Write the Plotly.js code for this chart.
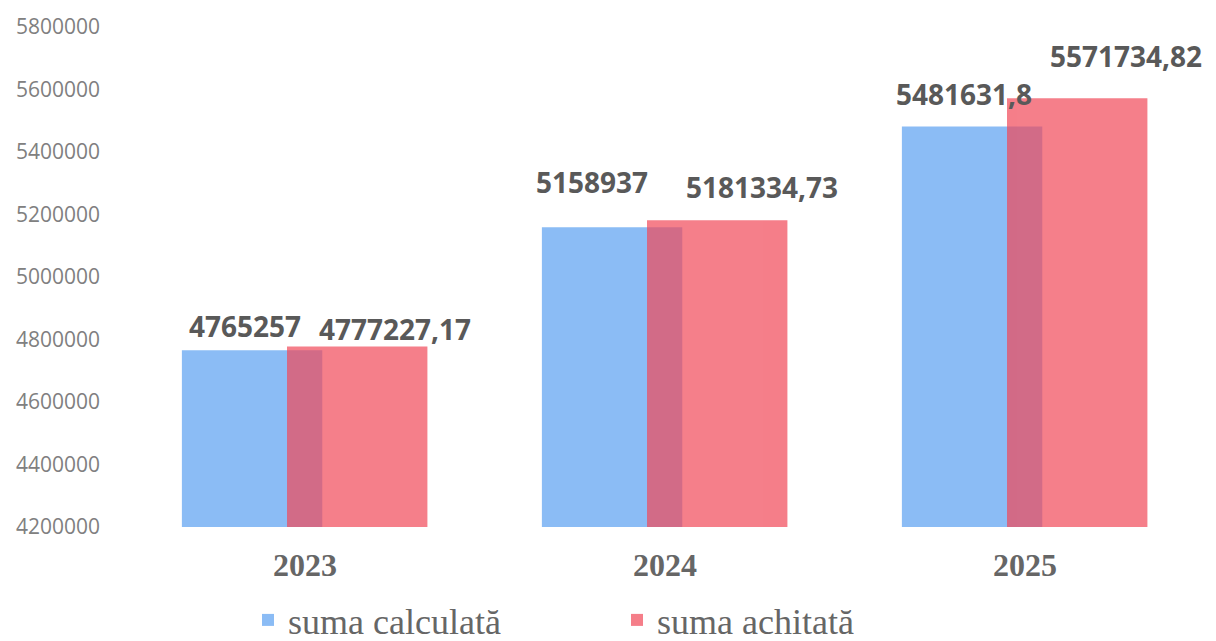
<!DOCTYPE html>
<html>
<head>
<meta charset="utf-8">
<script src="https://cdn.plot.ly/plotly-3.0.1.min.js"></script>
<style>html,body{margin:0;padding:0;background:#fff;}#chart{width:1216px;height:641px;}</style>
</head>
<body>
<div id="chart"></div>
<script>
const years = ["2023", "2024", "2025"];
const sumaCalculata = [4765257, 5158937, 5481631.8];
const sumaAchitata = [4777227.17, 5181334.73, 5571734.82];
const labelsCalculata = ["4765257", "5158937", "5481631,8"];
const labelsAchitata = ["4777227,17", "5181334,73", "5571734,82"];
const yTicks = [4200000, 4400000, 4600000, 4800000, 5000000, 5200000, 5400000, 5600000, 5800000];

const idx = years.map((_, i) => i);
const barW = 0.39;
const offBlue = -0.342;
const offRed = -0.05;

// pixel shifts of the value labels (layout only)
const shiftBlueX = [-7, -20, -8], shiftBlueY = [24, 45, 32];
const shiftRedX = [38, 45, 49], shiftRedY = [18, 33, 42];

const traces = [
  {type: "bar", name: "suma calculată", x: idx, y: sumaCalculata,
   width: barW, offset: offBlue, marker: {color: "rgb(139,188,245)"}, hoverinfo: "y"},
  {type: "bar", name: "suma achitată", x: idx, y: sumaAchitata,
   width: barW, offset: offRed, marker: {color: "rgb(241,72,88)"}, opacity: 0.7, hoverinfo: "y"}
];

const annFont = {family: "Open Sans, sans-serif", size: 28, color: "#595959", weight: "bold"};
const annotations = [];
idx.forEach(i => {
  annotations.push({x: i + offBlue + barW / 2, y: sumaCalculata[i], xref: "x", yref: "y",
    text: "<b>" + labelsCalculata[i] + "</b>", showarrow: false, font: annFont,
    xshift: shiftBlueX[i], yshift: shiftBlueY[i]});
  annotations.push({x: i + offRed + barW / 2, y: sumaAchitata[i], xref: "x", yref: "y",
    text: "<b>" + labelsAchitata[i] + "</b>", showarrow: false, font: annFont,
    xshift: shiftRedX[i], yshift: shiftRedY[i]});
});

const layout = {
  width: 1216, height: 641,
  margin: {l: 125, r: 11, t: 27, b: 114, autoexpand: false},
  paper_bgcolor: "#fff", plot_bgcolor: "#fff",
  barmode: "overlay",
  showlegend: true,
  legend: {orientation: "h", xref: "container", yref: "container",
    x: 248 / 1216, xanchor: "left", y: 21 / 641, yanchor: "middle",
    font: {family: "Liberation Serif, serif", size: 36, color: "#666"},
    itemwidth: 30, traceorder: "normal", entrywidth: 324},
  xaxis: {range: [-0.5, 2.5], tickvals: idx, ticktext: years, showgrid: false, zeroline: false,
    showline: false, ticks: "", automargin: false, ticklabelstandoff: 16,
    tickfont: {family: "Liberation Serif, serif", size: 32, color: "#666", weight: "bold"}},
  yaxis: {range: [4200000, 5800000], tickvals: yTicks, ticktext: yTicks.map(String),
    showgrid: false, zeroline: false, showline: false, ticks: "", ticklabelstandoff: 24,
    automargin: false,
    tickfont: {family: "Open Sans, sans-serif", size: 21, color: "#808080"}},
  annotations: annotations
};

Plotly.newPlot("chart", traces, layout, {displayModeBar: false, staticPlot: true});
</script>
</body>
</html>
